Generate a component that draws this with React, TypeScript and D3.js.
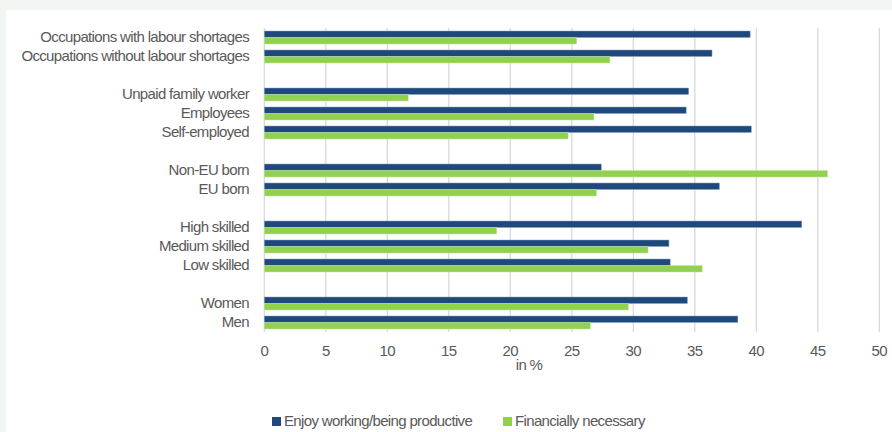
import React from "react";
import * as d3 from "d3";

// Row order top to bottom; empty strings are spacer rows between groups
const categories = [
  "Occupations with labour shortages",
  "Occupations without labour shortages",
  "",
  "Unpaid family worker",
  "Employees",
  "Self-employed",
  "",
  "Non-EU born",
  "EU born",
  "",
  "High skilled",
  "Medium skilled",
  "Low skilled",
  "",
  "Women",
  "Men",
];

const enjoyWorking = [39.5, 36.4, null, 34.5, 34.3, 39.6, null, 27.4, 37.0, null, 43.7, 32.9, 33.0, null, 34.4, 38.5];
const financiallyNecessary = [25.4, 28.1, null, 11.7, 26.8, 24.7, null, 45.8, 27.0, null, 18.9, 31.2, 35.6, null, 29.6, 26.5];

const xTicks = [0, 5, 10, 15, 20, 25, 30, 35, 40, 45, 50];

const seriesNames = ["Enjoy working/being productive", "Financially necessary"];
const seriesColors = ["#1f497d", "#92d050"];

const W = 892;
const H = 432;
const FONT = "'Liberation Sans', Arial, sans-serif";
const FS = 15;
const LS = -0.65;

export default function App() {
  const x = d3.scaleLinear().domain([0, 50]).range([264.3, 879.3]);
  const y = d3
    .scaleBand<number>()
    .domain(d3.range(categories.length))
    .range([28, 332])
    .paddingInner(0)
    .paddingOuter(0);
  const inner = d3
    .scaleBand<number>()
    .domain([0, 1])
    .range([3, y.bandwidth() - 3]);

  const series = [enjoyWorking, financiallyNecessary];

  return (
    <svg
      width={W}
      height={H}
      style={{ position: "absolute", left: 0, top: 0, display: "block" }}
      fontFamily={FONT}
    >
      <rect x={0} y={0} width={W} height={H} fill="#f2f6f2" />
      <rect x={6} y={10} width={W - 6} height={H - 10} fill="#ffffff" />

      {/* vertical gridlines */}
      {xTicks.map((t) => (
        <line
          key={"g" + t}
          x1={x(t)}
          x2={x(t)}
          y1={28}
          y2={332}
          stroke="#d9d9d9"
          strokeWidth={1.3}
        />
      ))}

      {/* bars */}
      {series.map((vals, si) =>
        vals.map((v, i) =>
          v == null ? null : (
            <rect
              key={`b${si}-${i}`}
              x={x(0)}
              y={(y(i) as number) + (inner(si) as number)}
              width={x(v) - x(0)}
              height={inner.bandwidth()}
              fill={seriesColors[si]}
              stroke={si === 0 ? "#8fa4c0" : "#c4e6a3"}
              strokeWidth={0.5}
            />
          )
        )
      )}

      {/* category labels */}
      {categories.map((c, i) =>
        c ? (
          <text
            key={"c" + i}
            x={249}
            y={(y(i) as number) + y.bandwidth() / 2 - 1}
            textAnchor="end"
            dominantBaseline="central"
            fontSize={FS}
            letterSpacing={LS}
            fill="#595959"
          >
            {c}
          </text>
        ) : null
      )}

      {/* x tick labels */}
      {xTicks.map((t) => (
        <text
          key={"t" + t}
          x={x(t)}
          y={350}
          textAnchor="middle"
          dominantBaseline="central"
          fontSize={FS}
          letterSpacing={LS}
          fill="#595959"
        >
          {t}
        </text>
      ))}

      <text
        x={529}
        y={364}
        textAnchor="middle"
        dominantBaseline="central"
        fontSize={FS}
        letterSpacing={LS}
        fill="#595959"
      >
        in %
      </text>

      {/* legend */}
      {seriesNames.map((n, i) => {
        const lx = i === 0 ? 272 : 503;
        return (
          <g key={"l" + i}>
            <rect x={lx} y={417} width={9} height={9} fill={seriesColors[i]} />
            <text
              x={lx + 12}
              y={420.5}
              dominantBaseline="central"
              fontSize={FS}
              letterSpacing={LS}
              fill="#595959"
            >
              {n}
            </text>
          </g>
        );
      })}
    </svg>
  );
}
